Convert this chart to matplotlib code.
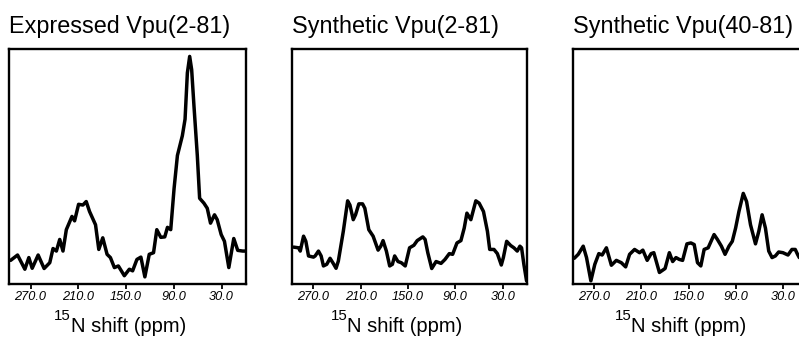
import matplotlib
matplotlib.use("Agg")
import matplotlib.pyplot as plt
from matplotlib.transforms import ScaledTranslation

plt.rcParams["font.family"] = ["Liberation Sans", "DejaVu Sans"]

titles = ["Expressed Vpu(2-81)", "Synthetic Vpu(2-81)", "Synthetic Vpu(40-81)"]
tick_values = [270, 210, 150, 90, 30]
tick_labels = ["270.0", "210.0", "150.0", "90.0", "30.0"]

# 15N chemical shift (ppm) and intensity (% of panel height)
expressed_ppm = [295.0, 286.3, 277.1, 272.1, 267.9, 260.4, 252.9, 245.8, 241.7, 237.5,
                 233.3, 229.2, 225.0, 217.9, 214.6, 209.6, 204.2, 200.0, 195.8, 188.3,
                 184.2, 179.2, 173.8, 169.6, 164.6, 159.6, 152.1, 145.8, 141.7, 136.3,
                 131.3, 126.3, 120.8, 115.4, 111.3, 106.3, 101.3, 97.9, 93.8, 89.6,
                 85.4, 79.2, 75.8, 72.9, 70.0, 67.5, 64.6, 60.4, 57.5, 52.1,
                 47.9, 43.8, 38.8, 35.4, 30.4, 26.3, 20.8, 14.6, 9.6, 3.3, -1.0]
expressed_int = [9.2, 11.5, 5.4, 10.4, 5.8, 11.5, 5.7, 8.2, 14.3, 13.2,
                 18.2, 13.2, 22.4, 28.1, 26.2, 33.3, 33.0, 34.5, 30.2, 24.5,
                 13.9, 18.9, 11.8, 10.4, 6.1, 6.8, 2.6, 5.4, 4.7, 9.6,
                 10.6, 2.1, 11.8, 12.5, 22.4, 19.1, 19.3, 23.4, 22.4, 40.1,
                 54.3, 62.8, 69.9, 89.8, 96.9, 91.2, 75.6, 54.3, 35.9, 33.8,
                 31.6, 25.2, 28.8, 26.7, 20.3, 17.4, 6.1, 18.6, 13.5, 13.2, 13.2]

synth_full_ppm = [295.0, 288.7, 286.6, 282.4, 279.5, 276.1, 269.8, 267.7, 263.5, 260.1,
                  257.2, 253.0, 248.8, 244.6, 241.2, 238.3, 232.0, 226.5, 223.6, 219.4,
                  216.5, 212.3, 207.6, 204.7, 199.7, 194.2, 187.9, 184.5, 181.6, 177.4,
                  173.2, 169.8, 166.9, 162.7, 158.5, 153.5, 148.0, 142.5, 138.3, 131.2,
                  128.3, 124.9, 119.9, 114.4, 108.1, 103.1, 97.6, 93.4, 87.9, 82.9,
                  78.7, 75.3, 70.3, 64.0, 59.8, 54.3, 49.3, 46.4, 41.0, 36.7,
                  31.7, 29.1, 24.9, 19.9, 15.7, 11.5, 8.1, 6.0, 3.1, -0.3]
synth_full_int = [14.9, 14.6, 13.2, 19.6, 17.4, 11.1, 10.6, 11.1, 13.2, 11.1,
                  6.8, 7.5, 10.1, 7.8, 5.8, 8.9, 21.7, 34.8, 33.0, 26.7,
                  28.8, 33.5, 33.5, 31.6, 22.4, 19.6, 13.6, 15.3, 17.7, 13.2,
                  6.8, 7.5, 11.1, 8.7, 8.2, 6.8, 14.6, 15.7, 17.7, 19.3,
                  18.2, 12.5, 5.7, 8.7, 7.9, 9.6, 12.1, 11.8, 16.7, 17.7,
                  23.1, 29.5, 26.7, 34.8, 33.8, 30.2, 21.7, 13.9, 13.9, 12.1,
                  7.2, 10.4, 17.4, 15.6, 14.6, 13.2, 15.3, 14.6, 7.5, 0.4]

synth_tm_ppm = [295.0, 290.0, 283.7, 279.5, 274.0, 269.0, 263.9, 259.7, 254.3, 248.0,
                241.7, 235.4, 229.9, 224.9, 218.6, 212.3, 208.1, 202.6, 197.6, 194.2,
                187.1, 179.9, 174.5, 170.3, 166.1, 161.9, 157.7, 152.2, 147.2, 143.0,
                138.8, 134.6, 130.4, 125.3, 117.8, 113.6, 108.5, 103.9, 98.9, 94.7,
                90.5, 86.3, 80.8, 76.6, 71.6, 65.3, 61.1, 56.9, 52.7, 48.5,
                44.3, 40.1, 35.9, 30.5, 24.1, 19.1, 14.9, 12.0, 9.8, 5.0, 0.0]
synth_tm_int = [10.1, 11.8, 15.3, 10.4, 0.4, 7.5, 12.1, 11.5, 14.6, 7.1,
                9.2, 8.2, 6.4, 11.8, 13.9, 12.5, 13.6, 9.2, 12.1, 12.5,
                4.0, 5.7, 12.5, 8.7, 10.4, 9.6, 9.2, 16.3, 16.7, 16.0,
                8.2, 6.8, 13.9, 14.6, 20.3, 18.2, 15.3, 11.8, 15.3, 17.4,
                23.1, 30.2, 38.0, 34.5, 24.5, 16.3, 21.7, 28.8, 23.1, 13.2,
                10.4, 11.1, 12.8, 12.5, 11.5, 13.9, 13.9, 11.8, 10.4, 11.5, 12.0]

spectra = [(expressed_ppm, expressed_int),
           (synth_full_ppm, synth_full_int),
           (synth_tm_ppm, synth_tm_int)]

fig = plt.figure(figsize=(7.99, 3.37), dpi=100)
lefts = [0.0113, 0.3655, 0.7168]
widths = [0.2966, 0.294, 0.294]
label_x = [0.505, 0.48, 0.494]

# the printed tick labels sit a few pixels left of their ticks
shift_left = ScaledTranslation(-5.5 / 100, 0, fig.dpi_scale_trans)

for i, (ppm, inten) in enumerate(spectra):
    ax = fig.add_axes([lefts[i], 0.157, widths[i], 0.697])
    ax.plot(ppm, inten, color="black", lw=2.5, solid_joinstyle="round",
            solid_capstyle="round")
    ax.set_xlim(297, -0.8)
    ax.set_ylim(-1, 100)
    ax.set_yticks([])
    ax.set_xticks(tick_values)
    ax.set_xticklabels(tick_labels, fontstyle="italic", fontsize=9.2)
    for lab in ax.get_xticklabels():
        lab.set_transform(lab.get_transform() + shift_left)
    ax.tick_params(axis="x", direction="out", length=3.5, width=1.3, pad=1.5)
    for sp in ax.spines.values():
        sp.set_linewidth(1.7)
    ax.set_title(titles[i], loc="left", fontsize=16.8, pad=11.5)

    xl = ax.set_xlabel("N shift (ppm)", fontsize=14.5)
    ax.xaxis.set_label_coords(label_x[i], -0.14)
    ax.annotate("15", xy=(0, 1), xycoords=xl, xytext=(0, 5.5),
                textcoords="offset points", ha="right", va="top",
                fontsize=10.8)

fig.savefig("out.png", dpi=100)
